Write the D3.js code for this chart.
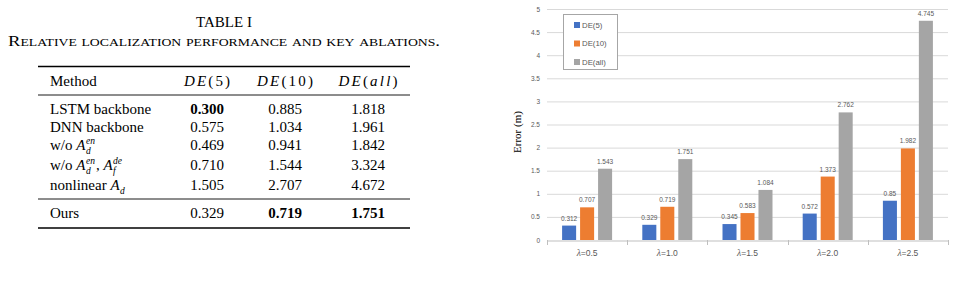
<!DOCTYPE html>
<html>
<head>
<meta charset="utf-8">
<script src="https://cdn.jsdelivr.net/npm/d3@7"></script>
<style>
  body { margin: 0; background: #fff; }
  svg { display: block; }
</style>
</head>
<body>
<svg id="page" width="955" height="287"></svg>
<script>
// ---- table data ----
const methods = ["LSTM backbone", "DNN backbone", "w/o A_d^en", "w/o A_d^en, A_f^de", "nonlinear A_d", "Ours"];
const tDE5 = ["0.300", "0.575", "0.469", "0.710", "1.505", "0.329"];
const tDE10 = ["0.885", "1.034", "0.941", "1.544", "2.707", "0.719"];
const tDEall = ["1.818", "1.961", "1.842", "3.324", "4.672", "1.751"];
// bold cells: [row, col]
const boldCells = [[0, 0], [5, 1], [5, 2]];

// ---- chart data ----
const lambdas = ["0.5", "1.0", "1.5", "2.0", "2.5"];
const seriesNames = ["DE(5)", "DE(10)", "DE(all)"];
const de5 = [0.312, 0.329, 0.345, 0.572, 0.85];
const de10 = [0.707, 0.719, 0.583, 1.373, 1.982];
const deAll = [1.543, 1.751, 1.084, 2.762, 4.745];
const yTicks = [0, 0.5, 1, 1.5, 2, 2.5, 3, 3.5, 4, 4.5, 5];
const colors = ["#4472C4", "#ED7D31", "#A5A5A5"];

const svg = d3.select("#page");
const serif = "'Liberation Serif', 'Times New Roman', serif";
const sans = "'Liberation Sans', Arial, sans-serif";

// ================= TABLE =================
const tbl = svg.append("g").attr("font-family", serif).attr("fill", "#000");

tbl.append("text").attr("x", 224).attr("y", 27).attr("text-anchor", "middle")
  .attr("font-size", 15).text("TABLE I");
tbl.append("text").attr("x", 224).attr("y", 46).attr("text-anchor", "middle")
  .attr("font-size", 15).attr("font-variant", "small-caps")
  .attr("textLength", 432).attr("lengthAdjust", "spacingAndGlyphs")
  .text("Relative localization performance and key ablations.");

const ruleX = [38, 410];
function rule(y, w) {
  tbl.append("line").attr("x1", ruleX[0]).attr("x2", ruleX[1])
    .attr("y1", y).attr("y2", y).attr("stroke", "#000").attr("stroke-width", w);
}
rule(66.5, 1.4);
rule(95, 0.9);
rule(199, 0.9);
rule(228, 1.4);

const colX = [207, 285, 368];
const headerY = 86;
const rowY = [114, 131.5, 150, 170, 190, 217.5];

tbl.append("text").attr("x", 50).attr("y", headerY).attr("font-size", 15).text("Method");
// math-style headers are wider than plain Times italics
const headers = [["DE", "(5)"], ["DE", "(10)"], ["DE", "(", "all", ")"]];
const headerW = [46, 56, 59];
headers.forEach((h, i) => {
  const t = tbl.append("text").attr("x", colX[i] - headerW[i] / 2).attr("y", headerY)
    .attr("font-size", 15)
    .attr("textLength", headerW[i]).attr("lengthAdjust", "spacing");
  h.forEach(part => {
    const it = /^[A-Za-z]+$/.test(part);
    t.append("tspan").attr("font-style", it ? "italic" : "normal").text(part);
  });
});

// method label with math scripts: "A_d^en" syntax
function drawMethod(label, y) {
  let x = 50;
  const tokens = label.split(/(A_[a-z]+(?:\^[a-z]+)?)/).filter(s => s.length);
  tokens.forEach(tok => {
    const m = tok.match(/^A_([a-z]+)(?:\^([a-z]+))?$/);
    if (m) {
      const a = tbl.append("text").attr("x", x).attr("y", y).attr("font-size", 15)
        .attr("font-style", "italic").text("A");
      x += a.node().getComputedTextLength() + 0.5;
      let w = 0;
      const sub = tbl.append("text").attr("x", x).attr("y", y + 4).attr("font-size", 9.5)
        .attr("font-style", "italic").text(m[1]);
      w = sub.node().getComputedTextLength();
      if (m[2]) {
        const sup = tbl.append("text").attr("x", x).attr("y", y - 6).attr("font-size", 9.5)
          .attr("font-style", "italic").text(m[2]);
        w = Math.max(w, sup.node().getComputedTextLength());
      }
      x += w + 1;
    } else {
      const t = tbl.append("text").attr("x", x).attr("y", y).attr("font-size", 15)
        .attr("xml:space", "preserve").style("white-space", "pre").text(tok);
      x += t.node().getComputedTextLength();
    }
  });
}

methods.forEach((m, r) => {
  drawMethod(m, rowY[r]);
  [tDE5, tDE10, tDEall].forEach((col, c) => {
    const bold = boldCells.some(b => b[0] === r && b[1] === c);
    tbl.append("text").attr("x", colX[c]).attr("y", rowY[r])
      .attr("text-anchor", "middle").attr("font-size", 15)
      .attr("font-weight", bold ? "bold" : "normal").text(col[r]);
  });
});

// ================= BAR CHART =================
const plot = { left: 547, right: 948, top: 9, bottom: 240 };
const ch = svg.append("g").attr("font-family", sans);

const y = d3.scaleLinear().domain([0, 5]).range([plot.bottom, plot.top]);
const x0 = d3.scaleBand().domain(lambdas).range([plot.left, plot.right]);
const x1 = d3.scaleBand().domain(seriesNames)
  .range([x0.bandwidth() / 2 - 25, x0.bandwidth() / 2 + 25]).paddingInner(0.22);

// gridlines
ch.append("g").selectAll("line").data(yTicks.filter(d => d > 0)).join("line")
  .attr("x1", plot.left).attr("x2", plot.right)
  .attr("y1", d => y(d) + 0.5).attr("y2", d => y(d) + 0.5)
  .attr("stroke", "#d9d9d9").attr("stroke-width", 1);

// y axis labels
const yAxis = ch.append("g").attr("transform", `translate(${plot.left - 7},0)`)
  .call(d3.axisLeft(y).tickValues(yTicks).tickSize(0).tickPadding(0).tickFormat(d3.format("")));
yAxis.select(".domain").remove();
yAxis.selectAll("text").attr("font-size", 6.5).attr("fill", "#595959").attr("font-family", sans);

// x axis
const xAxis = ch.append("g").attr("transform", `translate(0,${plot.bottom + 0.5})`)
  .call(d3.axisBottom(x0).tickSize(0).tickFormat(""));
xAxis.select(".domain").attr("stroke", "#bfbfbf");
// boundary ticks between categories
ch.append("g").selectAll("line").data(lambdas.concat(["end"])).join("line")
  .attr("x1", (d, i) => Math.round(plot.left + i * x0.step()) + 0.5)
  .attr("x2", (d, i) => Math.round(plot.left + i * x0.step()) + 0.5)
  .attr("y1", plot.bottom).attr("y2", plot.bottom + 5)
  .attr("stroke", "#bfbfbf");

const xl = ch.append("g").selectAll("text").data(lambdas).join("text")
  .attr("x", d => x0(d) + x0.bandwidth() / 2).attr("y", 256)
  .attr("text-anchor", "middle").attr("font-size", 8.5).attr("fill", "#595959");
xl.append("tspan").attr("font-family", serif).attr("font-style", "italic").attr("font-size", 9.5).text("λ");
xl.append("tspan").text(d => "=" + d);

// bars
const seriesVals = [de5, de10, deAll];
seriesNames.forEach((s, si) => {
  const g = ch.append("g");
  g.selectAll("rect").data(seriesVals[si]).join("rect")
    .attr("x", (d, i) => x0(lambdas[i]) + x1(s))
    .attr("y", d => y(d))
    .attr("width", x1.bandwidth())
    .attr("height", d => y(0) - y(d))
    .attr("fill", colors[si]);
  g.selectAll("text").data(seriesVals[si]).join("text")
    .attr("x", (d, i) => x0(lambdas[i]) + x1(s) + x1.bandwidth() / 2)
    .attr("y", d => y(d) - 5)
    .attr("text-anchor", "middle").attr("font-size", 6.5).attr("fill", "#595959")
    .text(d => String(d));
});

// y title
ch.append("text").attr("transform", "translate(521,132) rotate(-90)")
  .attr("text-anchor", "middle").attr("font-family", serif).attr("font-size", 11)
  .attr("fill", "#000").text("Error (m)");

// legend
const lg = ch.append("g");
lg.append("rect").attr("x", 563.5).attr("y", 14.5).attr("width", 54).attr("height", 55)
  .attr("fill", "#fff").attr("stroke", "#a6a6a6").attr("stroke-width", 1);
seriesNames.forEach((s, i) => {
  const cy = 25 + i * 18.5;
  lg.append("rect").attr("x", 574).attr("y", cy - 3).attr("width", 6).attr("height", 6)
    .attr("fill", colors[i]);
  lg.append("text").attr("x", 582).attr("y", cy + 2.7).attr("font-size", 7.8)
    .attr("fill", "#595959").text(s);
});
</script>
</body>
</html>
